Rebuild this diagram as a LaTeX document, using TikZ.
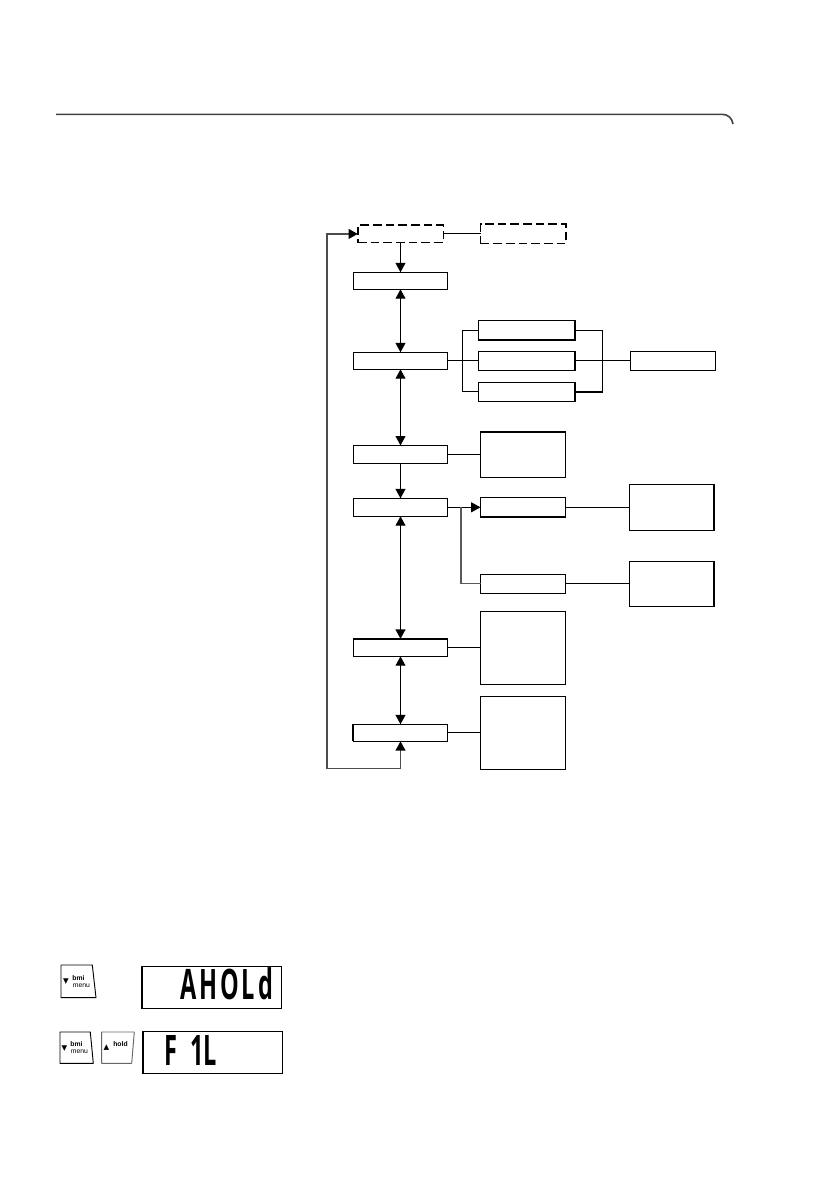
\documentclass[tikz,border=0pt]{standalone}
\usepackage{fontspec}
\setmainfont{Liberation Sans}
\newfontfamily\symfont{DejaVu Sans}
\newfontfamily\lcdfont[LetterSpace=12]{Open Sans}
\usetikzlibrary{arrows.meta}
\tikzset{
  box/.style={draw,rectangle,fill=white,inner sep=0pt,outer sep=0pt,line width=.8pt},
  menubox/.style={box,minimum width=70.8pt},
  dashbox/.style={box,dashed,line width=1pt,dash pattern=on 6.5pt off 3pt,minimum width=64pt},
  subbox/.style={box,minimum width=72.5pt,minimum height=14.4pt},
  infobox/.style={box,minimum width=64pt},
  lcdbox/.style={box,line width=1.1pt,minimum width=104.5pt,minimum height=31.2pt},
  lcdtext/.style={inner sep=0pt,font=\lcdfont\bfseries\fontsize{31.5}{31.5}\selectfont,xscale=.56,transform shape},
  wire/.style={line width=.8pt},
  greywire/.style={wire,line width=1pt,black!65},
  loopwire/.style={line width=1.2pt,black!70},
  oneway/.style={wire,-{Triangle[length=7pt,width=7.4pt]}},
  twoway/.style={wire,{Triangle[length=7pt,width=7.4pt]}-{Triangle[length=7pt,width=7.4pt]}},
  edge/.style={line width=1.5pt},
  key/.style={draw=black,line width=.7pt,fill=white,line join=round},
  keytext/.style={inner sep=0pt,font=\fontsize{5.1}{5.1}\selectfont},
  keysym/.style={inner sep=0pt,font=\symfont\fontsize{5.5}{5.5}\selectfont}
}
\begin{document}
\begin{tikzpicture}[x=.75pt,y=-.75pt]
\useasboundingbox (0,0) rectangle (838,1190);

  % page rule
  \draw[line width=1.2pt,black!75] (56,114.3) -- (722,114.3)
    .. controls (728,114.3) and (732,118) .. (733,124);

  % dashed boxes
  \node[dashbox,minimum height=13.3pt] (n1) at (400.5,233.9) {};
  \node[dashbox,minimum height=14.8pt] (n2) at (523.2,233.9) {};

  % main column
  \node[menubox,minimum height=12.8pt] (m1) at (400.5,280.8) {};
  \node[menubox,minimum height=12.8pt] (m2) at (400.5,360.8) {};
  \node[menubox,minimum height=13.5pt] (m3) at (400.5,454.4) {};
  \node[menubox,minimum height=13.5pt] (m4) at (400.5,507.3) {};
  \node[menubox,minimum height=13.2pt] (m5) at (400.5,647.6) {};
  \node[menubox,minimum height=12.8pt] (m6) at (400.5,732.8) {};

  % branches
  \node[subbox] (s1) at (526.7,330.3) {};
  \node[subbox] (s2) at (526.7,360.8) {};
  \node[subbox] (s3) at (526.7,391.8) {};
  \node[infobox,minimum height=14.3pt] (r1) at (673.2,360.8) {};
  \node[infobox,minimum height=34pt] (t1) at (523.2,454.4) {};
  \node[infobox,minimum height=14.8pt] (a1) at (523.2,507.3) {};
  \node[infobox,minimum height=14.3pt] (a2) at (523.2,583.8) {};
  \node[infobox,minimum height=34.5pt] (e1) at (671.7,507.3) {};
  \node[infobox,minimum height=33.8pt] (e2) at (671.7,583.8) {};
  \node[infobox,minimum height=54.8pt] (t5) at (523.2,647.6) {};
  \node[infobox,minimum height=54.8pt] (t6) at (523.2,732.8) {};

  \coordinate (b1) at (462.3,360.8);
  \coordinate (b2) at (602.7,360.8);
  \coordinate (b3) at (461,507.3);
  \coordinate (c1) at (327,768.5);

  \foreach \from/\to in {n1/n2, m2/s2, s2/r1, m3/t1, a1/e1, a2/e2, m5/t5, m6/t6}
    \draw[wire] (\from.east) -- (\to.west);
  \foreach \from/\to in {n1/m1, m3/m4}
    \draw[oneway] (\from.south) -- (\to.north);
  \foreach \from/\to in {m1/m2, m2/m3, m4/m5, m5/m6}
    \draw[twoway] (\from.south) -- (\to.north);

  \draw[wire] (s1.west) -| (b1) |- (s3.west);
  \draw[wire] (s1.east) -| (b2) |- (s3.east);
  \draw[oneway] (m4.east) -- (a1.west);
  \draw[greywire] (b3) |- (a2.west);
  \draw[loopwire,{Triangle[length=7pt,width=7.4pt,black]}-{Triangle[length=7pt,width=7.4pt,black]}]
    (m6.south) |- (c1) |- (n1.west);

  % heavier box edges
  \draw[edge] (s1.south west) -- (s1.south east) -- (s1.north east);
  \draw[edge] (s2.north east) -- (s2.south east);
  \draw[edge] (s3.north east) -- (s3.south east);
  \draw[edge] (s3.east) -- (b2 |- s3.east);
  \draw[edge] (t1.north west) -- (t1.north east);
  \draw[edge] (a1.south west) -- (a1.south east);
  \draw[edge] (e1.north east) -- (e1.south east);
  \draw[edge] (e2.north east) -- (e2.south east);
  \draw[edge] (m5.north west) -- (m5.north east);
  \draw[edge] (m6.north west) -- (m6.south west);

  % keys
  \draw[key] (61,965) -- (92.3,965) -- (96,997.7) -- (61,997.7) -- cycle;
  \draw[key] (60,1032) -- (90.3,1032) -- (93.3,1063.3) -- (60,1063.3) -- cycle;
  \draw[key,draw=black!60] (101.7,1032) -- (134.3,1032) -- (131.7,1063.3) -- (101.7,1063.3) -- cycle;
  \node[keysym] (k1) at (66,982) {▼};
  \node[keytext] (k2) at (78.5,978.5) {\bfseries bmi};
  \node[keytext] (k3) at (81.5,986) {menu};
  \node[keysym] (k4) at (64.5,1048.5) {▼};
  \node[keytext] (k5) at (76.5,1044.5) {\bfseries bmi};
  \node[keytext] (k6) at (79.5,1052) {menu};
  \node[keysym] (k7) at (106.5,1047.5) {▲};
  \node[keytext] (k8) at (120.5,1044.5) {\bfseries hold};

  % displays
  \node[lcdbox] (d1) at (211.8,987.5) {};
  \node[lcdbox] (d2) at (212.8,1052.5) {};
  \node[lcdtext] (l1) at (226.7,984) {AHOLd};
  \node[lcdtext,anchor=west] (l2) at (164,1050.5) {F\hspace{18pt}1\hspace{-1pt}L};
\end{tikzpicture}
\end{document}
